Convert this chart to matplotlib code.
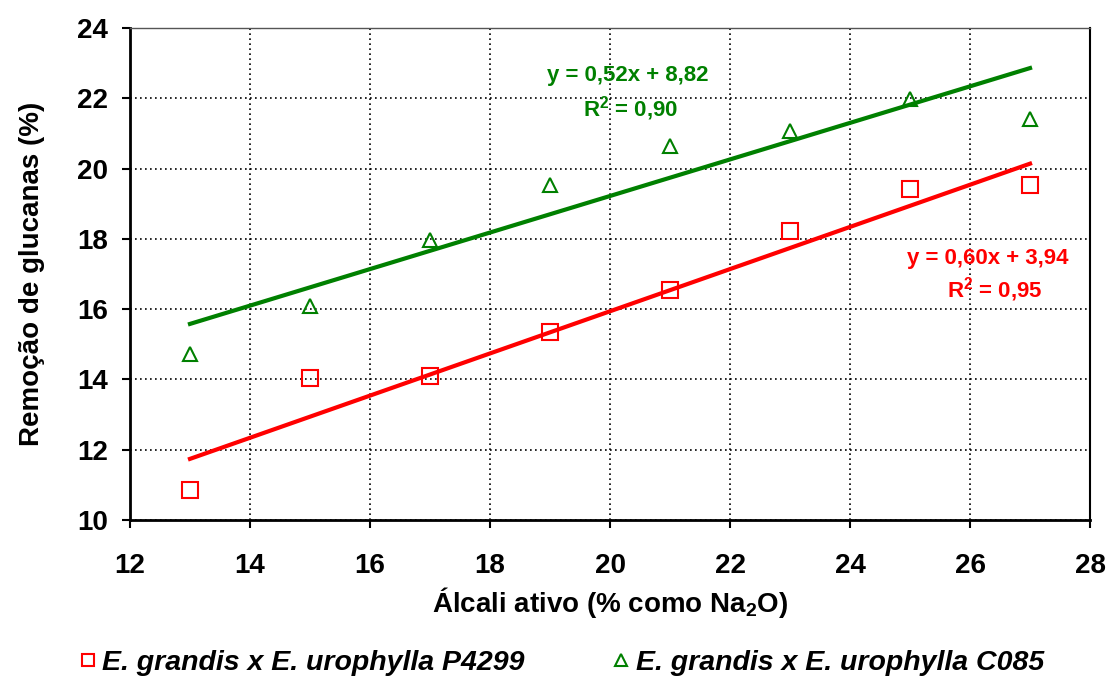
import numpy as np
import matplotlib
matplotlib.use('Agg')
import matplotlib.pyplot as plt

plt.rcParams['font.family'] = ['Liberation Sans', 'DejaVu Sans']
plt.rcParams['font.weight'] = 'bold'
plt.rcParams['mathtext.fontset'] = 'custom'
plt.rcParams['mathtext.rm'] = 'Liberation Sans:bold'
plt.rcParams['mathtext.bf'] = 'Liberation Sans:bold'

# Data
alcali = [13, 15, 17, 19, 21, 23, 25, 27]
p4299 = [10.85, 14.05, 14.10, 15.35, 16.55, 18.22, 19.42, 19.52]
c085 = [14.72, 16.08, 17.97, 19.52, 20.65, 21.08, 21.98, 21.40]

# Trend line coefficients (slope, intercept)
fit_p4299 = (0.60, 3.94)
fit_c085 = (0.52, 8.82)

red = '#ff0000'
green = '#008000'

fig = plt.figure(figsize=(11.09, 6.78), dpi=100)
ax = fig.add_axes([0.1172, 0.2330, 0.8657, 0.7257])

x_line = np.array([alcali[0], alcali[-1]])
ax.plot(x_line, fit_p4299[0] * x_line + fit_p4299[1], color=red, lw=3, zorder=3)
ax.plot(x_line, fit_c085[0] * x_line + fit_c085[1], color=green, lw=3, zorder=3)

ax.plot(alcali, p4299, 's', ms=11, mfc='none', mec=red, mew=1.5, zorder=4,
        label='E. grandis x E. urophylla P4299')
ax.plot(alcali, c085, '^', ms=10, mfc='none', mec=green, mew=1.5, zorder=4,
        label='E. grandis x E. urophylla C085')

ax.set_xlim(12, 28)
ax.set_ylim(10, 24)
ax.set_xticks(range(12, 29, 2))
ax.set_yticks(range(10, 25, 2))
ax.grid(True, color='black', linestyle=(0, (1, 2)), linewidth=1.2)
ax.tick_params(labelsize=20, length=6, width=1.5, direction='out')
ax.tick_params(axis='x', pad=18)
ax.tick_params(axis='y', pad=10)
for lab in ax.get_xticklabels() + ax.get_yticklabels():
    lab.set_fontweight('bold')
for s in ['left', 'bottom']:
    ax.spines[s].set_linewidth(2)
ax.spines['right'].set_linewidth(1.5)
ax.spines['top'].set_linewidth(1.0)
ax.spines['top'].set_color('#555555')

ax.set_xlabel('Álcali ativo (% como Na$_\\mathbf{2}$O)', fontsize=20,
              fontweight='bold', labelpad=4)
ax.set_ylabel('Remoção de glucanas (%)', fontsize=20, fontweight='bold',
              labelpad=23)

ax.text(20.3, 22.65, 'y = 0,52x + 8,82', color=green, fontsize=16,
        fontweight='bold', ha='center', va='center')
ax.text(20.35, 21.72, 'R$^\\mathbf{2}$ = 0,90', color=green, fontsize=16,
        fontweight='bold', ha='center', va='center')
ax.text(26.3, 17.45, 'y = 0,60x + 3,94', color=red, fontsize=16,
        fontweight='bold', ha='center', va='center')
ax.text(26.42, 16.57, 'R$^\\mathbf{2}$ = 0,95', color=red, fontsize=16,
        fontweight='bold', ha='center', va='center')

leg = fig.legend(loc='center', bbox_to_anchor=(0.505, 0.022), ncol=2,
                 frameon=False, handletextpad=0.1, columnspacing=3.0,
                 handlelength=0.8,
                 prop={'size': 20.5, 'weight': 'bold', 'style': 'italic'})
for h in leg.legend_handles:
    h.set_markersize(9)

fig.savefig('out.png', dpi=100)
